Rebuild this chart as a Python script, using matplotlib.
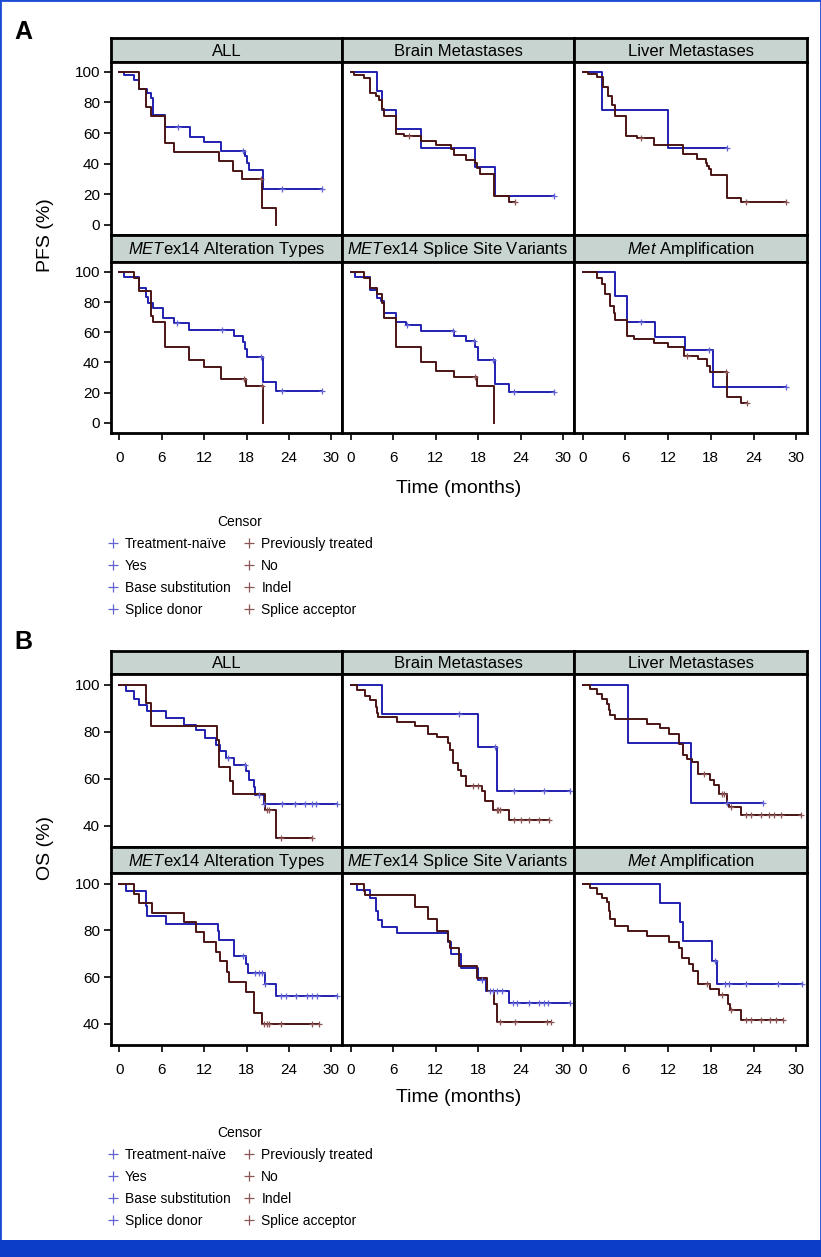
import numpy as np
import matplotlib
matplotlib.use('Agg')
import matplotlib.pyplot as plt
from matplotlib.lines import Line2D
from matplotlib.patches import Rectangle

plt.rcParams['font.family'] = ['Liberation Sans', 'DejaVu Sans']
plt.rcParams['mathtext.fontset'] = 'custom'
plt.rcParams['mathtext.it'] = 'Liberation Sans:italic'
plt.rcParams['mathtext.rm'] = 'Liberation Sans'

# ---------------- labels ----------------
panel_titles = ['ALL', 'Brain Metastases', 'Liver Metastases',
                r'$\mathit{MET}$ex14 Alteration Types',
                r'$\mathit{MET}$ex14 Splice Site Variants',
                r'$\mathit{Met}$ Amplification']
legend_blue = ['Treatment-naïve', 'Yes', 'Base substitution', 'Splice donor']
legend_brown = ['Previously treated', 'No', 'Indel', 'Splice acceptor']
xticks = [0, 6, 12, 18, 24, 30]
pfs_yticks = [0, 20, 40, 60, 80, 100]
os_yticks = [40, 60, 80, 100]

# ---------------- PFS data (event times, survival after event, censor times) ----------------
pfs_all_blue_t = [0.57, 2.0, 2.7, 3.9, 4.5, 4.7, 6.4, 10.0, 12.0, 14.4, 17.8, 18.0, 18.3, 20.3]
pfs_all_blue_s = [98, 94.7, 88.8, 86, 82.7, 71.8, 63.7, 57.5, 54.3, 48.4, 45, 40.3, 36, 23.6]
pfs_all_blue_c = [8.3, 17.5, 23.0, 28.6]
pfs_all_brown_t = [2.83, 3.73, 4.5, 6.4, 7.65, 14.1, 16.0, 17.4, 20.2, 22.2]
pfs_all_brown_s = [88.8, 76.8, 70.9, 53.2, 47.3, 41.4, 35.4, 29.8, 11.2, 0]
pfs_all_brown_c = [20.0]

pfs_brain_blue_t = [3.7, 4.5, 6.4, 10.0, 17.5, 20.3]
pfs_brain_blue_s = [87.7, 75.3, 62.6, 50.1, 37.9, 18.8]
pfs_brain_blue_c = [28.7]
pfs_brain_brown_t = [0.5, 1.9, 2.8, 3.6, 4.0, 4.4, 4.7, 6.4, 7.6, 10.0, 12.1, 14.2, 14.6, 16.3, 17.5, 17.8, 18.2, 20.2, 22.3]
pfs_brain_brown_s = [98, 95.8, 86.2, 84.5, 81.8, 75.7, 70.9, 59.3, 57.8, 54.9, 52.3, 49.7, 45.5, 42.5, 40.3, 37.4, 33.5, 18.8, 14.9]
pfs_brain_brown_c = [8.2, 23.2]

pfs_liver_blue_t = [2.7, 12.05]
pfs_liver_blue_s = [75.3, 50.1]
pfs_liver_blue_c = [20.3]
pfs_liver_brown_t = [0.8, 2.0, 2.85, 3.6, 4.1, 4.6, 6.1, 7.7, 10.0, 14.1, 16.0, 17.3, 17.5, 17.8, 18.0, 20.3, 22.2]
pfs_liver_brown_s = [98.5, 96.5, 90, 84, 78.3, 71.3, 58.2, 56.5, 52.3, 46.2, 43.3, 40.7, 38.5, 36.3, 32.6, 17.7, 14.9]
pfs_liver_brown_c = [8.2, 23.0, 28.6]

pfs_alt_blue_t = [0.57, 2.8, 3.7, 4.0, 4.8, 6.2, 7.75, 9.9, 16.2, 17.5, 17.7, 18.1, 20.3, 22.2]
pfs_alt_blue_s = [96.5, 89.5, 83.6, 79.6, 75.9, 69.3, 66, 61.6, 57.7, 53.3, 48.9, 43.4, 27, 21]
pfs_alt_blue_c = [8.2, 14.5, 20.1, 23.0, 28.6]
pfs_alt_brown_t = [2.0, 2.8, 4.5, 4.7, 6.4, 9.9, 12.0, 14.4, 17.9, 20.3]
pfs_alt_brown_s = [96, 87.3, 70.8, 66.9, 50, 41.7, 37.3, 29.2, 24.1, 0]
pfs_alt_brown_c = [17.6, 20.2]

pfs_splice_blue_t = [0.6, 2.8, 3.8, 4.3, 4.7, 6.4, 7.8, 10.0, 14.6, 16.3, 17.5, 18.0, 20.3, 22.3]
pfs_splice_blue_s = [96.5, 87.7, 82.9, 80.7, 73, 67.1, 64.7, 61, 57.7, 54, 50, 41.7, 25.9, 20.4]
pfs_splice_blue_c = [8.0, 14.4, 17.4, 20.1, 23.1, 28.7]
pfs_splice_brown_t = [1.9, 2.8, 3.8, 4.4, 4.7, 6.4, 10.0, 12.1, 14.6, 17.8, 20.2]
pfs_splice_brown_s = [96, 89.5, 85, 79.6, 69.7, 50, 40.1, 34.6, 30.3, 24.1, 0]
pfs_splice_brown_c = [17.5]

pfs_amp_blue_t = [4.5, 6.3, 10.1, 14.4, 18.3]
pfs_amp_blue_s = [84, 67.1, 57, 48.2, 23.7]
pfs_amp_blue_c = [8.2, 17.7, 28.6]
pfs_amp_brown_t = [2.0, 2.7, 3.2, 3.9, 4.4, 4.6, 6.3, 7.2, 10.0, 12.0, 14.3, 16.2, 17.4, 17.9, 20.3, 22.2]
pfs_amp_brown_s = [96, 91.7, 85, 77.4, 73, 68, 57.7, 55.5, 52.6, 50, 44.5, 42.3, 37.9, 33.5, 17.1, 13.2]
pfs_amp_brown_c = [14.6, 20.2, 23.1]

# ---------------- OS data ----------------
os_all_blue_t = [0.95, 2.0, 2.7, 3.9, 6.6, 9.1, 10.9, 12.1, 13.7, 14.3, 15.1, 16.2, 17.9, 18.4, 19.0, 19.2, 20.4]
os_all_blue_s = [97.4, 94, 91.5, 88.7, 85.8, 83, 80.9, 77.3, 74.5, 71.6, 68.8, 66, 63.1, 59.6, 56.7, 53.2, 49.2]
os_all_blue_c = [15.4, 17.8, 19.7, 20.4, 23.0, 24.9, 26.3, 27.3, 27.8, 30.8]
os_all_brown_t = [3.7, 4.4, 13.8, 14.1, 15.6, 16.1, 20.6, 22.2]
os_all_brown_s = [92.2, 82.3, 76.6, 65.2, 58.9, 53.6, 46.8, 34.8]
os_all_brown_c = [20.9, 21.1, 22.8, 27.3]

os_brain_blue_t = [4.5, 17.9, 20.6]
os_brain_blue_s = [87.5, 73.3, 54.9]
os_brain_blue_c = [15.3, 20.3, 23.0, 27.3, 30.9]
os_brain_brown_t = [0.9, 2.1, 2.8, 3.6, 3.8, 3.9, 6.5, 9.1, 10.9, 12.2, 13.7, 14.0, 14.4, 15.2, 15.6, 16.3, 18.5, 19.0, 20.1, 22.3]
os_brain_brown_s = [97.9, 95, 93.6, 90.5, 88, 86.2, 84.1, 82.3, 79.1, 77.7, 75.2, 72.3, 66.7, 63.8, 61.3, 57, 54.6, 50.4, 46.8, 42.6]
os_brain_brown_c = [17.3, 18.0, 20.6, 20.8, 21.1, 23.0, 24.0, 25.1, 26.5, 28.0]

os_liver_blue_t = [6.4, 15.2]
os_liver_blue_s = [75.2, 49.8]
os_liver_blue_c = [20.3, 25.3]
os_liver_brown_t = [1.0, 2.0, 2.7, 3.4, 3.7, 3.9, 4.5, 9.1, 10.9, 12.2, 13.6, 14.1, 14.6, 15.4, 16.2, 17.9, 18.4, 19.1, 20.3, 20.6, 22.2]
os_liver_brown_s = [98.3, 96.2, 94, 91.9, 89, 86.9, 85.2, 83.4, 81.7, 79.1, 74.8, 69.9, 68.5, 67.1, 62.1, 59.3, 57.2, 53.7, 49.4, 47.9, 44.4]
os_liver_brown_c = [17.0, 19.6, 19.9, 20.9, 22.9, 23.6, 25.0, 26.2, 26.9, 27.8, 30.7]

os_alt_blue_t = [0.95, 3.7, 3.9, 6.6, 13.9, 14.1, 16.2, 17.9, 18.2, 20.6, 22.2]
os_alt_blue_s = [96.6, 90.5, 86.2, 82.7, 79.9, 76, 69, 65.4, 61.7, 57.2, 51.9]
os_alt_blue_c = [17.5, 19.2, 19.7, 20.2, 20.6, 22.9, 23.6, 25.0, 26.5, 27.3, 28.0, 30.8]
os_alt_brown_t = [2.0, 2.7, 4.6, 9.2, 10.9, 12.0, 13.7, 14.3, 15.2, 15.5, 17.9, 19.0, 19.1, 20.2]
os_alt_brown_s = [95.7, 91.5, 87.2, 83.4, 79.1, 74.9, 70.6, 66.8, 62.1, 57.9, 53.6, 48.7, 44.7, 39.9]
os_alt_brown_c = [20.4, 20.9, 21.1, 22.9, 27.3, 28.2]

os_splice_blue_t = [0.95, 2.8, 3.6, 3.9, 4.5, 6.5, 13.7, 14.2, 15.6, 18.0, 19.1, 22.3]
os_splice_blue_s = [97.2, 93.8, 88.1, 84.5, 81.6, 78.7, 74.9, 69.9, 63.8, 58.9, 53.9, 49.1]
os_splice_blue_c = [18.6, 19.6, 20.1, 20.6, 21.3, 22.9, 23.5, 25.1, 26.6, 27.3, 27.9, 30.9]
os_splice_brown_t = [1.9, 2.1, 9.1, 10.9, 12.2, 13.7, 14.0, 15.3, 17.8, 19.2, 20.2, 20.6]
os_splice_brown_s = [96.9, 95, 89.8, 84.8, 79.9, 75.3, 72.5, 64.6, 59.7, 53.9, 48.4, 40.9]
os_splice_brown_c = [21.1, 23.2, 27.7, 28.3]

os_amp_blue_t = [10.9, 13.7, 14.1, 18.1, 18.9]
os_amp_blue_s = [91.6, 83.4, 75.3, 66.7, 57.2]
os_amp_blue_c = [18.6, 20.0, 20.5, 22.9, 27.5, 30.8]
os_amp_brown_t = [1.0, 2.0, 2.7, 3.4, 3.7, 3.9, 4.5, 6.4, 9.1, 12.2, 13.6, 14.0, 15.0, 15.5, 16.2, 17.9, 19.1, 20.4, 20.7, 22.2]
os_amp_brown_s = [98.3, 95.7, 93.8, 91.9, 88.4, 84.8, 82, 79.9, 77.4, 74.9, 72.5, 68.1, 65.4, 62.8, 57.2, 55, 52.2, 48.7, 45.8, 41.6]
os_amp_brown_c = [17.4, 19.6, 20.9, 22.9, 23.6, 25.0, 26.3, 27.2, 28.1]

pfs_curves = [
    ((pfs_all_blue_t, pfs_all_blue_s, pfs_all_blue_c), (pfs_all_brown_t, pfs_all_brown_s, pfs_all_brown_c)),
    ((pfs_brain_blue_t, pfs_brain_blue_s, pfs_brain_blue_c), (pfs_brain_brown_t, pfs_brain_brown_s, pfs_brain_brown_c)),
    ((pfs_liver_blue_t, pfs_liver_blue_s, pfs_liver_blue_c), (pfs_liver_brown_t, pfs_liver_brown_s, pfs_liver_brown_c)),
    ((pfs_alt_blue_t, pfs_alt_blue_s, pfs_alt_blue_c), (pfs_alt_brown_t, pfs_alt_brown_s, pfs_alt_brown_c)),
    ((pfs_splice_blue_t, pfs_splice_blue_s, pfs_splice_blue_c), (pfs_splice_brown_t, pfs_splice_brown_s, pfs_splice_brown_c)),
    ((pfs_amp_blue_t, pfs_amp_blue_s, pfs_amp_blue_c), (pfs_amp_brown_t, pfs_amp_brown_s, pfs_amp_brown_c)),
]
os_curves = [
    ((os_all_blue_t, os_all_blue_s, os_all_blue_c), (os_all_brown_t, os_all_brown_s, os_all_brown_c)),
    ((os_brain_blue_t, os_brain_blue_s, os_brain_blue_c), (os_brain_brown_t, os_brain_brown_s, os_brain_brown_c)),
    ((os_liver_blue_t, os_liver_blue_s, os_liver_blue_c), (os_liver_brown_t, os_liver_brown_s, os_liver_brown_c)),
    ((os_alt_blue_t, os_alt_blue_s, os_alt_blue_c), (os_alt_brown_t, os_alt_brown_s, os_alt_brown_c)),
    ((os_splice_blue_t, os_splice_blue_s, os_splice_blue_c), (os_splice_brown_t, os_splice_brown_s, os_splice_brown_c)),
    ((os_amp_blue_t, os_amp_blue_s, os_amp_blue_c), (os_amp_brown_t, os_amp_brown_s, os_amp_brown_c)),
]

# ---------------- styling ----------------
W, H = 821, 1257
BLUE = '#2020b0'
BROWN = '#4a1414'
BLUE_C = '#6464d4'
BROWN_C = '#8c5656'
STRIP = '#c8d4cf'
SPINE_LW = 2.0

fig = plt.figure(figsize=(W / 100, H / 100), dpi=100)


def ax_px(x0, y0, x1, y1):
    return fig.add_axes([x0 / W, 1 - y1 / H, (x1 - x0) / W, (y1 - y0) / H])


def km(ax, t, s, c, color, ccolor):
    end = max([t[-1]] + list(c))
    tt = np.concatenate([[0], t, [end]])
    ss = np.concatenate([[100], s, [s[-1]]])
    ax.step(tt, ss, where='post', color=color, lw=1.4, zorder=3)
    if len(c):
        idx = np.searchsorted(np.asarray(t), np.asarray(c), side='right')
        vals = np.concatenate([[100], s])[idx]
        ax.plot(c, vals, ls='none', marker='+', color=ccolor, ms=5, mew=0.9, zorder=4)


cols = [(111, 342), (342, 574), (574, 807)]


def section(curves, rows, strips, ylim, yticks, ylabel, ylabel_y, xlabel_y, letter, letter_y, legend_y):
    for r in range(2):
        for ci in range(3):
            k = r * 3 + ci
            x0, x1 = cols[ci]
            sax = ax_px(x0, strips[r][0], x1, strips[r][1])
            sax.set_facecolor(STRIP)
            sax.set_xticks([]); sax.set_yticks([])
            for sp in sax.spines.values():
                sp.set_linewidth(SPINE_LW)
            sax.text(0.5, 0.45, panel_titles[k], ha='center', va='center', fontsize=12, transform=sax.transAxes)

            ax = ax_px(x0, rows[r][0], x1, rows[r][1])
            for sp in ax.spines.values():
                sp.set_linewidth(SPINE_LW)
            ax.set_xlim(-1.2, 31.5)
            ax.set_ylim(*ylim)
            blue, brown = curves[k]
            km(ax, *blue, BLUE, BLUE_C)
            km(ax, *brown, BROWN, BROWN_C)
            ax.tick_params(direction='out', length=5, width=1.2, labelsize=11, pad=3)
            if ci == 0:
                ax.set_yticks(yticks)
            else:
                ax.set_yticks([])
            if r == 1:
                ax.set_xticks(xticks)
                ax.tick_params(axis='x', pad=8)
            else:
                ax.set_xticks([])
    fig.text(45 / W, 1 - ylabel_y / H, ylabel, rotation=90, ha='center', va='center', fontsize=14)
    fig.text(459 / W, 1 - xlabel_y / H, 'Time (months)', ha='center', va='center', fontsize=14)
    fig.text(14 / W, 1 - letter_y / H, letter, ha='left', va='center', fontsize=18, fontweight='bold')

    handles = [Line2D([], [], ls='none', marker='+', color=BLUE_C, ms=7, mew=0.9) for _ in legend_blue] + \
              [Line2D([], [], ls='none', marker='+', color=BROWN_C, ms=7, mew=0.9) for _ in legend_brown]
    fig.legend(handles, legend_blue + legend_brown, ncol=2, title='Censor', loc='upper left',
               bbox_to_anchor=(107 / W, 1 - legend_y / H), frameon=False, fontsize=10, title_fontsize=10,
               handlelength=0.8, handletextpad=0.5, columnspacing=0.9, labelspacing=0.58,
               borderpad=0, borderaxespad=0)


section(pfs_curves, [(62, 235), (262, 433)], [(38, 62), (235, 262)], (-6.7, 106.5), pfs_yticks,
        'PFS (%)', 235, 488, 'A', 32, 515)
section(os_curves, [(674, 847), (873, 1045)], [(651, 674), (847, 873)], (31, 104.5), os_yticks,
        'OS (%)', 848, 1098, 'B', 642, 1126)

# frame and bottom band
fig.patches.append(Rectangle((0, 0), 1, 1, transform=fig.transFigure, fill=False, ec='#1a4cd4', lw=2.0, zorder=10))
fig.patches.append(Rectangle((0, 0), 1, 17 / H, transform=fig.transFigure, fc='#0b3dc8', ec='none', zorder=10))

fig.savefig('out.png', dpi=100)
